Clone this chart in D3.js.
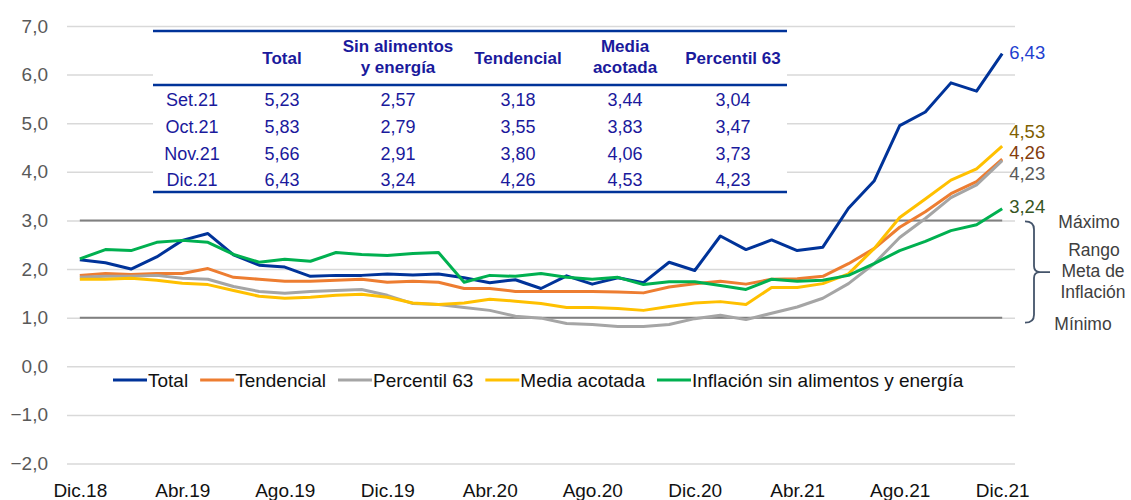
<!DOCTYPE html>
<html>
<head>
<meta charset="utf-8">
<script src="https://cdn.jsdelivr.net/npm/d3@7"></script>
<style>
body { margin: 0; background: #fff; }
svg { font-family: "Liberation Sans", Arial, sans-serif; }
</style>
</head>
<body>
<div id="root"></div>
<script>
// monthly 12-month inflation, Dic.18 .. Dic.21
const months = ['Dic.18','Ene.19','Feb.19','Mar.19','Abr.19','May.19','Jun.19','Jul.19','Ago.19','Set.19','Oct.19','Nov.19',
    'Dic.19','Ene.20','Feb.20','Mar.20','Abr.20','May.20','Jun.20','Jul.20','Ago.20','Set.20','Oct.20','Nov.20',
    'Dic.20','Ene.21','Feb.21','Mar.21','Abr.21','May.21','Jun.21','Jul.21','Ago.21','Set.21','Oct.21','Nov.21','Dic.21'];
const tickMonths = ['Dic.18','Abr.19','Ago.19','Dic.19','Abr.20','Ago.20','Dic.20','Abr.21','Ago.21','Dic.21'];

const total = [2.19,2.13,2.00,2.25,2.59,2.73,2.29,2.08,2.04,1.85,1.87,1.87,1.90,1.88,1.90,1.82,1.72,1.78,1.60,1.86,
    1.69,1.82,1.72,2.14,1.97,2.68,2.40,2.60,2.38,2.45,3.25,3.81,4.95,5.23,5.83,5.66,6.43];
const tendencial = [1.87,1.91,1.89,1.91,1.91,2.01,1.83,1.79,1.75,1.75,1.77,1.79,1.73,1.75,1.73,1.60,1.60,1.54,1.54,1.54,
    1.54,1.53,1.51,1.63,1.70,1.75,1.69,1.79,1.80,1.85,2.11,2.42,2.86,3.18,3.55,3.80,4.26];
const percentil63 = [1.83,1.85,1.85,1.87,1.81,1.79,1.64,1.54,1.50,1.54,1.56,1.58,1.46,1.29,1.27,1.21,1.15,1.03,0.99,0.88,
    0.86,0.82,0.82,0.86,0.98,1.05,0.96,1.09,1.22,1.40,1.70,2.11,2.65,3.04,3.47,3.73,4.23];
const mediaAcotada = [1.79,1.79,1.81,1.77,1.71,1.68,1.56,1.44,1.40,1.42,1.46,1.48,1.42,1.30,1.27,1.30,1.38,1.34,1.29,1.21,
    1.21,1.19,1.15,1.23,1.30,1.33,1.27,1.62,1.62,1.70,1.90,2.42,3.06,3.44,3.83,4.06,4.53];
const sinAlimentos = [2.21,2.40,2.38,2.55,2.59,2.55,2.30,2.14,2.20,2.16,2.34,2.30,2.28,2.32,2.34,1.73,1.87,1.85,1.91,1.83,
    1.79,1.83,1.68,1.74,1.74,1.66,1.58,1.79,1.75,1.77,1.87,2.11,2.38,2.57,2.79,2.91,3.24];

const targetRange = [1, 3];
const yTicks = [-2,-1,0,1,2,3,4,5,6,7];

const W = 1131, H = 500;
const svg = d3.select('#root').append('svg')
    .attr('width', W)
    .attr('height', H);

const x = d3.scalePoint().domain(months).range([67, 1015]).padding(0.5);
const y = d3.scaleLinear().domain([-2, 7]).range([463.5, 26]);
const fmt1 = v => d3.format('.1f')(v).replace('.', ',');
const fmt2 = v => d3.format('.2f')(v).replace('.', ',');

// grid + y labels
const yAxis = svg.append('g')
    .attr('transform', 'translate(67,0)')
    .call(d3.axisLeft(y).tickValues(yTicks).tickSize(-948).tickPadding(19).tickFormat(fmt1));
yAxis.select('.domain').remove();
yAxis.selectAll('line').attr('stroke', '#d9d9d9').attr('stroke-width', 1.5);
yAxis.selectAll('text').attr('fill', '#595959').style('font-size', '19px').attr('font-family', null);

// target range lines
svg.append('g').selectAll('line')
    .data(targetRange)
    .enter().append('line')
    .attr('x1', x(months[0])).attr('x2', x(months[months.length - 1]))
    .attr('y1', d => y(d)).attr('y2', d => y(d))
    .attr('stroke', '#808080').attr('stroke-width', 2);

// x labels
const xAxis = svg.append('g')
    .attr('transform', 'translate(0,483.5)')
    .call(d3.axisBottom(x).tickValues(tickMonths).tickSize(0).tickPadding(0));
xAxis.select('.domain').remove();
xAxis.selectAll('text').attr('fill', '#111').style('font-size', '19px').attr('font-family', null);

const series = [
    { name: 'Total', values: total, color: '#003399', label: '#1f3fd0', dy: 5.5 },
    { name: 'Tendencial', values: tendencial, color: '#ed7d31', label: '#843c0c', dy: -0.5 },
    { name: 'Percentil 63', values: percentil63, color: '#a5a5a5', label: '#595959', dy: 19.5 },
    { name: 'Media acotada', values: mediaAcotada, color: '#ffc000', label: '#7f6000', dy: -8.5 },
    { name: 'Inflación sin alimentos y energía', values: sinAlimentos, color: '#00b050', label: '#375623', dy: 4.5 }
];

const line = d3.line()
    .x((d, i) => x(months[i]))
    .y(d => y(d));

svg.append('g').selectAll('path')
    .data(series)
    .enter().append('path')
    .attr('d', d => line(d.values))
    .attr('fill', 'none')
    .attr('stroke', d => d.color)
    .attr('stroke-width', 3)
    .attr('stroke-linejoin', 'round');

// end labels
svg.append('g').selectAll('text')
    .data(series)
    .enter().append('text')
    .attr('x', x(months[months.length - 1]) + 7)
    .attr('y', d => y(d.values[d.values.length - 1]) + d.dy)
    .attr('fill', d => d.label)
    .style('font-size', '18.5px')
    .text(d => fmt2(d.values[d.values.length - 1]));

// legend
const legend = svg.append('g').attr('transform', 'translate(113,380)');
let lx = 0;
series.forEach(s => {
    legend.append('line')
        .attr('x1', lx).attr('x2', lx + 34)
        .attr('stroke', s.color).attr('stroke-width', 3);
    const t = legend.append('text')
        .attr('x', lx + 35).attr('dy', '0.35em')
        .style('font-size', '19px').attr('fill', '#111')
        .text(s.name);
    lx += 35 + t.node().getComputedTextLength() + 12;
});

// table
const tableRows = months.slice(-4);
const tableCols = [
    { head: ['Total'], values: total.slice(-4), cx: 282 },
    { head: ['Sin alimentos', 'y energía'], values: sinAlimentos.slice(-4), cx: 398 },
    { head: ['Tendencial'], values: tendencial.slice(-4), cx: 518 },
    { head: ['Media', 'acotada'], values: mediaAcotada.slice(-4), cx: 625 },
    { head: ['Percentil 63'], values: percentil63.slice(-4), cx: 733 }
];
const tbl = svg.append('g');
tbl.append('rect').attr('x', 153).attr('y', 31).attr('width', 634).attr('height', 161).attr('fill', '#fff');
tbl.selectAll('line')
    .data([31, 85, 192])
    .enter().append('line')
    .attr('x1', 153).attr('x2', 787)
    .attr('y1', d => d).attr('y2', d => d)
    .attr('stroke', '#003399').attr('stroke-width', 2.5);

const rowY = [106, 133, 159.5, 186];
tbl.selectAll('.rowlab')
    .data(tableRows)
    .enter().append('text')
    .attr('class', 'rowlab')
    .attr('x', 192).attr('y', (d, i) => rowY[i])
    .attr('text-anchor', 'middle')
    .attr('fill', '#1a1a9c').style('font-size', '18px')
    .text(d => d);

tableCols.forEach(c => {
    const hy = c.head.length === 1 ? [63.5] : [52, 73];
    c.head.forEach((h, j) => {
        tbl.append('text')
            .attr('x', c.cx).attr('y', hy[j])
            .attr('text-anchor', 'middle')
            .attr('fill', '#1a1a9c').style('font-size', '17px').style('font-weight', 'bold')
            .text(h);
    });
    c.values.forEach((v, i) => {
        tbl.append('text')
            .attr('x', c.cx).attr('y', rowY[i])
            .attr('text-anchor', 'middle')
            .attr('fill', '#1a1a9c').style('font-size', '18px')
            .text(fmt2(v));
    });
});

// target range brace
const yTop = y(targetRange[1]) + 1, yBot = y(targetRange[0]) + 5, yMid = (yTop + yBot) / 2;
svg.append('path')
    .attr('d', `M1025,${yTop} Q1034,${yTop} 1034,${yTop + 8} L1034,${yMid - 6} Q1034,${yMid} 1040,${yMid} L1050,${yMid}
        M1040,${yMid} Q1034,${yMid} 1034,${yMid + 6} L1034,${yBot - 8} Q1034,${yBot} 1025,${yBot}`)
    .attr('fill', 'none').attr('stroke', '#44546a').attr('stroke-width', 1.8);

const braceText = [
    { t: 'Máximo', x: 1089, y: 228 },
    { t: 'Rango', x: 1094, y: 256 },
    { t: 'Meta de', x: 1093, y: 277 },
    { t: 'Inflación', x: 1093, y: 298 },
    { t: 'Mínimo', x: 1083, y: 330 }
];
svg.append('g').selectAll('text')
    .data(braceText)
    .enter().append('text')
    .attr('x', d => d.x).attr('y', d => d.y)
    .attr('text-anchor', 'middle')
    .attr('fill', '#404040').style('font-size', '17.5px')
    .text(d => d.t);
</script>
</body>
</html>
